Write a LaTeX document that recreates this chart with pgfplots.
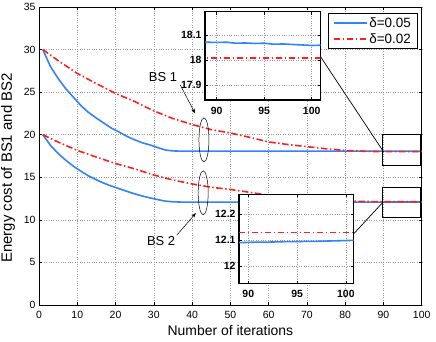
\documentclass[border=0pt]{standalone}
\usepackage{fontspec}
\setmainfont{Liberation Sans}
\usepackage{pgfplots}
\pgfplotsset{compat=1.18}
\usetikzlibrary{arrows.meta}

\definecolor{cblue}{RGB}{50,130,250}
\definecolor{cred}{RGB}{255,30,30}

\pgfplotsset{
  /pgf/number format/assume math mode=true,
  mblue/.style={cblue, line width=1.6bp},
  mred/.style={cred, line width=1.6bp, dash pattern=on 6.5bp off 2.5bp on 1.5bp off 2.5bp},
  boxax/.style={
    scale only axis,
    grid=major,
    grid style={dotted, gray!80, line width=0.5bp},
    tick align=inside,
    major tick length=3bp,
    tick style={black, line width=0.6bp},
  },
}

\begin{document}
\begin{tikzpicture}
\begin{axis}[boxax,
    width=382.7bp, height=298bp,
    xmin=0, xmax=100, ymin=0, ymax=35,
    xtick={0,10,...,100}, ytick={0,5,...,35},
    axis line style={line width=0.8bp},
    ticklabel style={font=\fontsize{10.5}{12}\selectfont},
    xticklabel style={yshift=-3bp},
    xlabel={Number of iterations},
    ylabel={Energy cost of BS1 and BS2},
    every axis x label/.style={at={(axis description cs:0.5,-0.084)}, anchor=center,
        font=\fontsize{14}{16}\selectfont},
    every axis y label/.style={at={(axis description cs:-0.081,0.46)}, anchor=center,
        rotate=90, font=\fontsize{15}{17}\selectfont},
    legend style={at={(0.9885,0.98)}, anchor=north east,
        font=\fontsize{13.5}{16}\selectfont, draw=black, line width=0.8bp,
        inner xsep=4bp, inner ysep=2bp, row sep=1bp},
    legend cell align=left,
    legend image code/.code={\draw[#1] (0bp,0bp) -- (33bp,0bp);},
]
% BS1
\addplot[mblue] coordinates {
  (1,30) (3,28.0) (5,26.6) (7,25.4) (9,24.4) (11,23.4) (13,22.6) (15,21.95)
  (17,21.35) (19,20.75) (21,20.3) (23,19.8) (25,19.4) (27,19.05) (29,18.8)
  (30,18.65) (31,18.5) (33,18.2) (35,18.1) (37,18.07) (40,18.07) (50,18.07)
  (60,18.07) (70,18.07) (80,18.07) (90,18.07) (100,18.06)
};
\addlegendentry{δ=0.05}
\addplot[mred] coordinates {
  (1,30) (5,28.7) (10,27.2) (15,26.0) (20,24.85) (25,23.9) (30,22.8) (35,21.9)
  (40,21.2) (45,20.6) (50,20.2) (55,19.7) (60,19.15) (65,18.85) (70,18.6)
  (75,18.35) (80,18.15) (85,18.05) (90,18.01) (95,18.01) (100,18.01)
};
\addlegendentry{δ=0.02}
% BS2
\addplot[mblue, forget plot] coordinates {
  (1,20) (3,18.75) (5,17.8) (7,17.0) (9,16.3) (11,15.7) (13,15.15) (15,14.7)
  (17,14.3) (19,13.95) (21,13.65) (23,13.35) (25,13.05) (27,12.8) (29,12.58)
  (31,12.38) (33,12.2) (35,12.12) (37,12.09) (50,12.09) (60,12.09) (70,12.09)
  (80,12.09) (90,12.09) (100,12.1)
};
\addplot[mred, forget plot] coordinates {
  (1,20) (5,19.14) (10,18.16) (15,17.37) (20,16.62) (25,15.99) (30,15.27)
  (35,14.68) (40,14.22) (45,13.83) (50,13.57) (55,13.24) (60,12.88) (65,12.68)
  (70,12.52) (75,12.35) (80,12.22) (85,12.16) (90,12.13) (95,12.13) (100,12.13)
};

% annotations
\draw[line width=0.5bp] (axis cs:43.1,19.4) ellipse [x radius=5bp, y radius=22bp];
\draw[line width=0.5bp] (axis cs:42.9,13.18) ellipse [x radius=5bp, y radius=22bp];
\node[font=\fontsize{13}{15}\selectfont] at (axis cs:32.4,26.8) {BS 1};
\node[font=\fontsize{13}{15}\selectfont] at (axis cs:31.9,7.5) {BS 2};
\draw[line width=0.5bp, -{Stealth[length=5bp, width=3.5bp]}]
  (axis cs:36.9,25.85) -- (axis cs:40.8,22.5);
\draw[line width=0.5bp, -{Stealth[length=5bp, width=3.5bp]}]
  (axis cs:36.0,8.2) -- (axis cs:41.0,10.8);
\draw[line width=1bp] (axis cs:89.7,16.36) rectangle (axis cs:99.7,19.97);
\draw[line width=1bp] (axis cs:89.7,10.25) rectangle (axis cs:99.7,13.82);
\coordinate (z1) at (axis cs:90,18.01);
\coordinate (z2) at (axis cs:90,12.13);
\end{axis}

% inset BS1
\begin{axis}[boxax,
    at={(166bp,205bp)}, anchor=south west,
    width=115.7bp, height=88.3bp,
    xmin=88.77, xmax=100.95, ymin=17.84, ymax=18.193,
    xtick={90,95,100}, ytick={17.9,18,18.1},
    axis background/.style={fill=white},
    axis line style={line width=1.1bp},
    ticklabel style={font=\bfseries\fontsize{10.5}{12}\selectfont},
    xticklabel style={yshift=-3.5bp},
]
\addplot[mblue] coordinates {
  (88,18.070) (89,18.071) (90,18.070) (91,18.071) (92,18.067) (93,18.068)
  (94,18.066) (95,18.067) (96,18.063) (97,18.064) (98,18.062) (99,18.060)
  (100,18.058) (101,18.059)
};
\addplot[mred] coordinates {(88,18.008) (101,18.008)};
\coordinate (c1) at (axis cs:100.95,18.012);
\end{axis}

% inset BS2
\begin{axis}[boxax,
    at={(200bp,21.3bp)}, anchor=south west,
    width=114.7bp, height=89.4bp,
    xmin=89.05, xmax=100.8, ymin=11.933, ymax=12.277,
    xtick={90,95,100}, ytick={12,12.1,12.2},
    axis background/.style={fill=white},
    axis line style={line width=1.1bp},
    ticklabel style={font=\bfseries\fontsize{10.5}{12}\selectfont},
    xticklabel style={yshift=-3bp},
]
\addplot[mblue] coordinates {
  (89,12.091) (90,12.092) (91,12.093) (92,12.093) (93,12.094) (94,12.095)
  (95,12.095) (96,12.096) (97,12.096) (98,12.097) (99,12.098) (100,12.099)
  (101,12.100)
};
\addplot[mred] coordinates {(89,12.13) (101,12.13)};
\coordinate (c2) at (axis cs:100.8,12.125);
\end{axis}

\draw[line width=0.7bp] (c1) -- (z1);
\draw[line width=0.7bp] (c2) -- (z2);

\pgfresetboundingbox
\useasboundingbox (-39bp,-37bp) rectangle (397bp,305bp);
\end{tikzpicture}
\end{document}
